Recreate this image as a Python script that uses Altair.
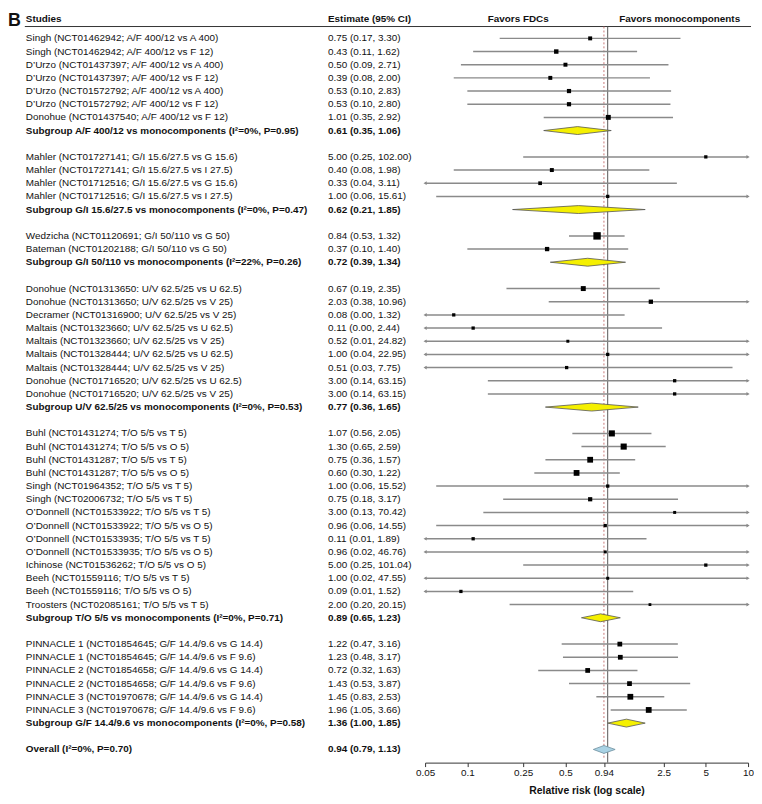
import altair as alt
import pandas as pd

FONT = "Liberation Sans"

# ---------------- data ----------------
labels = [
    "Singh (NCT01462942; A/F 400/12 vs A 400)",
    "Singh (NCT01462942; A/F 400/12 vs F 12)",
    "D’Urzo (NCT01437397; A/F 400/12 vs A 400)",
    "D’Urzo (NCT01437397; A/F 400/12 vs F 12)",
    "D’Urzo (NCT01572792; A/F 400/12 vs A 400)",
    "D’Urzo (NCT01572792; A/F 400/12 vs F 12)",
    "Donohue (NCT01437540; A/F 400/12 vs F 12)",
    "Mahler (NCT01727141; G/I 15.6/27.5 vs G 15.6)",
    "Mahler (NCT01727141; G/I 15.6/27.5 vs I 27.5)",
    "Mahler (NCT01712516; G/I 15.6/27.5 vs G 15.6)",
    "Mahler (NCT01712516; G/I 15.6/27.5 vs I 27.5)",
    "Wedzicha (NCT01120691; G/I 50/110 vs G 50)",
    "Bateman (NCT01202188; G/I 50/110 vs G 50)",
    "Donohue (NCT01313650: U/V 62.5/25 vs U 62.5)",
    "Donohue (NCT01313650; U/V 62.5/25 vs V 25)",
    "Decramer (NCT01316900; U/V 62.5/25 vs V 25)",
    "Maltais (NCT01323660; U/V 62.5/25 vs U 62.5)",
    "Maltais (NCT01323660; U/V 62.5/25 vs V 25)",
    "Maltais (NCT01328444; U/V 62.5/25 vs U 62.5)",
    "Maltais (NCT01328444; U/V 62.5/25 vs V 25)",
    "Donohue (NCT01716520; U/V 62.5/25 vs U 62.5)",
    "Donohue (NCT01716520; U/V 62.5/25 vs V 25)",
    "Buhl (NCT01431274; T/O 5/5 vs T 5)",
    "Buhl (NCT01431274; T/O 5/5 vs O 5)",
    "Buhl (NCT01431287; T/O 5/5 vs T 5)",
    "Buhl (NCT01431287; T/O 5/5 vs O 5)",
    "Singh (NCT01964352; T/O 5/5 vs T 5)",
    "Singh (NCT02006732; T/O 5/5 vs T 5)",
    "O’Donnell (NCT01533922; T/O 5/5 vs T 5)",
    "O’Donnell (NCT01533922; T/O 5/5 vs O 5)",
    "O’Donnell (NCT01533935; T/O 5/5 vs T 5)",
    "O’Donnell (NCT01533935; T/O 5/5 vs O 5)",
    "Ichinose (NCT01536262; T/O 5/5 vs O 5)",
    "Beeh (NCT01559116; T/O 5/5 vs T 5)",
    "Beeh (NCT01559116; T/O 5/5 vs O 5)",
    "Troosters (NCT02085161; T/O 5/5 vs T 5)",
    "PINNACLE 1 (NCT01854645; G/F 14.4/9.6 vs G 14.4)",
    "PINNACLE 1 (NCT01854645; G/F 14.4/9.6 vs F 9.6)",
    "PINNACLE 2 (NCT01854658; G/F 14.4/9.6 vs G 14.4)",
    "PINNACLE 2 (NCT01854658; G/F 14.4/9.6 vs F 9.6)",
    "PINNACLE 3 (NCT01970678; G/F 14.4/9.6 vs G 14.4)",
    "PINNACLE 3 (NCT01970678; G/F 14.4/9.6 vs F 9.6)",
]
est = [0.75, 0.43, 0.50, 0.39, 0.53, 0.53, 1.01,
       5.00, 0.40, 0.33, 1.00,
       0.84, 0.37,
       0.67, 2.03, 0.08, 0.11, 0.52, 1.00, 0.51, 3.00, 3.00,
       1.07, 1.30, 0.75, 0.60, 1.00, 0.75, 3.00, 0.96, 0.11, 0.96, 5.00, 1.00, 0.09, 2.00,
       1.22, 1.23, 0.72, 1.43, 1.45, 1.96]
lo = [0.17, 0.11, 0.09, 0.08, 0.10, 0.10, 0.35,
      0.25, 0.08, 0.04, 0.06,
      0.53, 0.10,
      0.19, 0.38, 0.00, 0.00, 0.01, 0.04, 0.03, 0.14, 0.14,
      0.56, 0.65, 0.36, 0.30, 0.06, 0.18, 0.13, 0.06, 0.01, 0.02, 0.25, 0.02, 0.01, 0.20,
      0.47, 0.48, 0.32, 0.53, 0.83, 1.05]
hi = [3.30, 1.62, 2.71, 2.00, 2.83, 2.80, 2.92,
      102.00, 1.98, 3.11, 15.61,
      1.32, 1.40,
      2.35, 10.96, 1.32, 2.44, 24.82, 22.95, 7.75, 63.15, 63.15,
      2.05, 2.59, 1.57, 1.22, 15.52, 3.17, 70.42, 14.55, 1.89, 46.76, 101.04, 47.55, 1.52, 20.15,
      3.16, 3.17, 1.63, 3.87, 2.53, 3.66]
weights = [16, 20, 16, 16, 18, 18, 25,
           11, 16, 14, 11,
           56, 19,
           25, 19, 11, 11, 9, 11, 11, 11, 11,
           38, 38, 34, 34, 11, 18, 9, 11, 11, 9, 11, 9, 11, 8,
           23, 23, 23, 23, 34, 34]
group_sizes = [7, 4, 2, 9, 14, 6]

sub_labels = [
    "Subgroup A/F 400/12 vs monocomponents (I²=0%, P=0.95)",
    "Subgroup G/I 15.6/27.5 vs monocomponents (I²=0%, P=0.47)",
    "Subgroup G/I 50/110 vs monocomponents (I²=22%, P=0.26)",
    "Subgroup U/V 62.5/25 vs monocomponents (I²=0%, P=0.53)",
    "Subgroup T/O 5/5 vs monocomponents (I²=0%, P=0.71)",
    "Subgroup G/F 14.4/9.6 vs monocomponents (I²=0%, P=0.58)",
]
sub_est = [0.61, 0.62, 0.72, 0.77, 0.89, 1.36]
sub_lo = [0.35, 0.21, 0.39, 0.36, 0.65, 1.00]
sub_hi = [1.06, 1.85, 1.34, 1.65, 1.23, 1.85]

overall_label = "Overall (I²=0%, P=0.70)"
overall_est, overall_lo, overall_hi = 0.94, 0.79, 1.13

tick_values = [0.05, 0.1, 0.25, 0.5, 0.94, 2.5, 5, 10]
XMIN, XMAX = 0.05, 10
NULL_VALUE = 1.0

# ---------------- tables ----------------
def ci_text(e, l, h):
    return f"{e:.2f} ({l:.2f}, {h:.2f})"

study_rows, bold_rows, dia_rows = [], [], []
r, k = 0, 0
for g, n in enumerate(group_sizes):
    for _ in range(n):
        study_rows.append(dict(row=r, label=labels[k], ci=ci_text(est[k], lo[k], hi[k]),
                               est=est[k], lo_c=max(lo[k], XMIN), hi_c=min(hi[k], XMAX),
                               left=lo[k] < XMIN, right=hi[k] > XMAX, w=weights[k]))
        r += 1
        k += 1
    bold_rows.append(dict(row=r, label=sub_labels[g], ci=ci_text(sub_est[g], sub_lo[g], sub_hi[g])))
    for x, y1, y2 in [(sub_lo[g], r, r), (sub_est[g], r - 0.3, r + 0.3), (sub_hi[g], r, r)]:
        dia_rows.append(dict(id=g, x=x, y1=y1, y2=y2))
    r += 2
ov_row = r
bold_rows.append(dict(row=ov_row, label=overall_label, ci=ci_text(overall_est, overall_lo, overall_hi)))
ov_dia = pd.DataFrame([dict(id=0, x=overall_lo, y1=ov_row, y2=ov_row),
                       dict(id=0, x=overall_est, y1=ov_row - 0.3, y2=ov_row + 0.3),
                       dict(id=0, x=overall_hi, y1=ov_row, y2=ov_row)])

studies = pd.DataFrame(study_rows)
bolds = pd.DataFrame(bold_rows)
dias = pd.DataFrame(dia_rows)
left_arrows = studies[studies["left"]].assign(x=XMIN)
right_arrows = studies[studies["right"]].assign(x=XMAX)
refs = pd.DataFrame({"x": [NULL_VALUE], "y": [-0.9], "y2": [ov_row + 1]})
ov_ref = pd.DataFrame({"x": [overall_est], "y": [-0.9], "y2": [ov_row + 0.75]})
one = pd.DataFrame({"a": [0]})

# ---------------- scales ----------------
xscale = alt.Scale(type="log", domain=[XMIN, XMAX], range=[421, 747], nice=False)
yscale = alt.Scale(domain=[-0.9, 55], range=[15, 758], nice=False, zero=False)
xaxis = alt.Axis(values=tick_values, format="~g", title="Relative risk (log scale)",
                 grid=False, domainColor="#333333", tickColor="#333333", tickSize=4,
                 labelFont=FONT, labelFontSize=10, labelColor="#111111", labelPadding=1,
                 labelFlush=False, labelOverlap=False,
                 titleFont=FONT, titleFontSize=10.5, titleFontWeight="bold", titleColor="#111111",
                 titlePadding=8)

def X(field):
    return alt.X(field, type="quantitative", scale=xscale, axis=xaxis)

def Y(field):
    return alt.Y(field, type="quantitative", scale=yscale, axis=None)

# ---------------- layers ----------------
header_rule = alt.Chart(one).mark_rule(color="#333333", strokeWidth=1).encode(
    x=alt.value(17), x2=alt.value(750), y=alt.value(15))

def header(text, x, align):
    return alt.Chart(one).mark_text(text=text, font=FONT, fontSize=10, fontWeight="bold",
                                    align=align, baseline="middle", color="#111111").encode(
        x=alt.value(x), y=alt.value(7))

panel_letter = alt.Chart(one).mark_text(text="B", font=FONT, fontSize=18, fontWeight="bold",
                                        align="left", baseline="top", color="#111111").encode(
    x=alt.value(0), y=alt.value(0))

null_line = alt.Chart(refs).mark_rule(color="#555555", strokeWidth=1).encode(
    x=X("x"), y=Y("y"), y2="y2")
ov_line = alt.Chart(ov_ref).mark_rule(color="#c87878", strokeWidth=1, strokeDash=[2, 2]).encode(
    x=X("x"), y=Y("y"), y2="y2")

ci_lines = alt.Chart(studies).mark_rule(color="#8a8a8a", strokeWidth=1.5).encode(
    x=X("lo_c"), x2="hi_c", y=Y("row"))
la = alt.Chart(left_arrows).mark_point(shape="triangle-left", filled=True, size=14,
                                       color="#8a8a8a", opacity=1).encode(x=X("x"), y=Y("row"))
ra = alt.Chart(right_arrows).mark_point(shape="triangle-right", filled=True, size=14,
                                        color="#8a8a8a", opacity=1).encode(x=X("x"), y=Y("row"))
squares = alt.Chart(studies).mark_square(color="#000000", opacity=1).encode(
    x=X("est"), y=Y("row"), size=alt.Size("w:Q", scale=None, legend=None))

sub_dia = alt.Chart(dias).mark_area(orient="vertical", fill="#f5f000", stroke="#555555",
                                    strokeWidth=0.8, opacity=1).encode(
    x=X("x"), y=Y("y1"), y2="y2", detail="id:N")
ov_diamond = alt.Chart(ov_dia).mark_area(orient="vertical", fill="#a9d2e4", stroke="#6f8f9f",
                                         strokeWidth=0.8, opacity=1).encode(
    x=X("x"), y=Y("y1"), y2="y2", detail="id:N")

def text_layer(df, field, x, bold):
    return alt.Chart(df).mark_text(font=FONT, fontSize=10, align="left", baseline="middle",
                                   fontWeight="bold" if bold else "normal", color="#111111").encode(
        x=alt.value(x), y=Y("row"), text=f"{field}:N")

chart = alt.layer(
    header_rule,
    panel_letter,
    header("Studies", 18, "left"),
    header("Estimate (95% CI)", 323, "left"),
    header("Favors FDCs", 515, "center"),
    header("Favors monocomponents", 678, "center"),
    null_line, ov_line,
    ci_lines, la, ra, squares,
    sub_dia, ov_diamond,
    text_layer(studies, "label", 18, False),
    text_layer(studies, "ci", 323, False),
    text_layer(bolds, "label", 18, True),
    text_layer(bolds, "ci", 323, True),
).properties(
    width=753, height=758,
    background="white",
    autosize=alt.AutoSizeParams(type="none"),
    padding={"left": 0, "top": 0, "right": 0, "bottom": 30},
).configure_view(stroke=None)

chart.save("out.html", embed_options={"renderer": "svg", "actions": False})
